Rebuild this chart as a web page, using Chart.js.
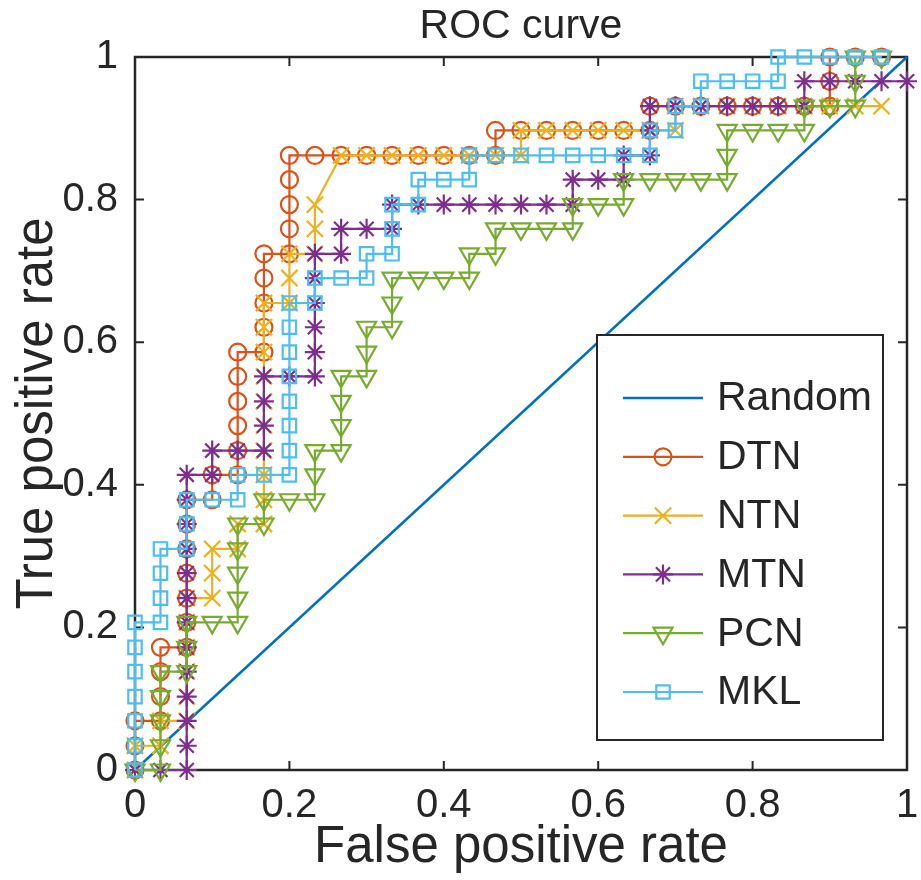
<!DOCTYPE html>
<html>
<head>
<meta charset="utf-8">
<script src="https://cdn.jsdelivr.net/npm/chart.js@4.4.1/dist/chart.umd.min.js"></script>
<style>
  html, body { margin: 0; padding: 0; background: #fff; }
  #wrap { width: 921px; height: 880px; }
</style>
</head>
<body>
<div id="wrap"><canvas id="roc" width="921" height="880"></canvas></div>
<script>
// ROC points: [false positive rate, true positive rate]
const randomPts = [[0, 0], [1, 1]];

const dtnPts = [[0,0],[0,0.034],[0,0.069],[0.033,0.069],[0.033,0.103],[0.033,0.138],[0.033,0.172],[0.067,0.172],[0.067,0.207],[0.067,0.241],[0.067,0.276],[0.067,0.31],[0.067,0.345],[0.067,0.379],[0.1,0.379],[0.1,0.414],[0.133,0.414],[0.133,0.448],[0.133,0.483],[0.133,0.517],[0.133,0.552],[0.133,0.586],[0.167,0.586],[0.167,0.621],[0.167,0.655],[0.167,0.69],[0.167,0.724],[0.2,0.724],[0.2,0.759],[0.2,0.793],[0.2,0.828],[0.2,0.862],[0.233,0.862],[0.267,0.862],[0.3,0.862],[0.333,0.862],[0.367,0.862],[0.4,0.862],[0.433,0.862],[0.467,0.862],[0.467,0.897],[0.5,0.897],[0.533,0.897],[0.567,0.897],[0.6,0.897],[0.633,0.897],[0.667,0.897],[0.667,0.931],[0.7,0.931],[0.733,0.931],[0.767,0.931],[0.8,0.931],[0.833,0.931],[0.867,0.931],[0.9,0.931],[0.9,0.966],[0.9,1],[0.933,1],[0.967,1]];

const ntnPts = [[0,0],[0,0.034],[0.033,0.034],[0.033,0.069],[0.067,0.069],[0.067,0.103],[0.067,0.138],[0.067,0.172],[0.067,0.207],[0.067,0.241],[0.1,0.241],[0.1,0.276],[0.1,0.31],[0.133,0.31],[0.133,0.345],[0.167,0.345],[0.167,0.379],[0.167,0.414],[0.167,0.448],[0.167,0.483],[0.167,0.517],[0.167,0.552],[0.167,0.586],[0.167,0.621],[0.167,0.655],[0.2,0.655],[0.2,0.69],[0.2,0.724],[0.233,0.724],[0.233,0.759],[0.233,0.793],[0.267,0.862],[0.3,0.862],[0.333,0.862],[0.367,0.862],[0.4,0.862],[0.433,0.862],[0.467,0.862],[0.5,0.862],[0.5,0.897],[0.533,0.897],[0.567,0.897],[0.6,0.897],[0.633,0.897],[0.667,0.897],[0.7,0.897],[0.7,0.931],[0.733,0.931],[0.767,0.931],[0.8,0.931],[0.833,0.931],[0.867,0.931],[0.9,0.931],[0.933,0.931],[0.967,0.931]];

const mtnPts = [[0,0],[0.033,0],[0.067,0],[0.067,0.034],[0.067,0.069],[0.067,0.103],[0.067,0.138],[0.067,0.172],[0.067,0.207],[0.067,0.241],[0.067,0.276],[0.067,0.31],[0.067,0.345],[0.067,0.379],[0.067,0.414],[0.1,0.414],[0.1,0.448],[0.133,0.448],[0.167,0.448],[0.167,0.483],[0.167,0.517],[0.167,0.552],[0.2,0.552],[0.233,0.552],[0.233,0.586],[0.233,0.621],[0.233,0.655],[0.233,0.69],[0.233,0.724],[0.267,0.724],[0.267,0.759],[0.3,0.759],[0.333,0.759],[0.333,0.793],[0.367,0.793],[0.4,0.793],[0.433,0.793],[0.467,0.793],[0.5,0.793],[0.533,0.793],[0.567,0.793],[0.567,0.828],[0.6,0.828],[0.633,0.828],[0.633,0.862],[0.667,0.862],[0.667,0.897],[0.667,0.931],[0.7,0.931],[0.733,0.931],[0.767,0.931],[0.8,0.931],[0.833,0.931],[0.867,0.931],[0.867,0.966],[0.9,0.966],[0.933,0.966],[0.967,0.966],[1,0.966]];

const pcnPts = [[0,0],[0.033,0],[0.033,0.034],[0.033,0.069],[0.033,0.103],[0.033,0.138],[0.067,0.138],[0.067,0.172],[0.067,0.207],[0.1,0.207],[0.133,0.207],[0.133,0.241],[0.133,0.276],[0.133,0.31],[0.133,0.345],[0.167,0.345],[0.167,0.379],[0.2,0.379],[0.233,0.379],[0.233,0.414],[0.233,0.448],[0.267,0.448],[0.267,0.483],[0.267,0.517],[0.267,0.552],[0.3,0.552],[0.3,0.586],[0.3,0.621],[0.333,0.621],[0.333,0.655],[0.333,0.69],[0.367,0.69],[0.4,0.69],[0.433,0.69],[0.433,0.724],[0.467,0.724],[0.467,0.759],[0.5,0.759],[0.533,0.759],[0.567,0.759],[0.567,0.793],[0.6,0.793],[0.633,0.793],[0.633,0.828],[0.667,0.828],[0.7,0.828],[0.733,0.828],[0.767,0.828],[0.767,0.862],[0.767,0.897],[0.8,0.897],[0.833,0.897],[0.867,0.897],[0.867,0.931],[0.9,0.931],[0.933,0.931],[0.933,0.966],[0.933,1],[0.967,1]];

const mklPts = [[0,0],[0,0.034],[0,0.069],[0,0.103],[0,0.138],[0,0.172],[0,0.207],[0.033,0.207],[0.033,0.241],[0.033,0.276],[0.033,0.31],[0.067,0.31],[0.067,0.345],[0.067,0.379],[0.1,0.379],[0.133,0.379],[0.133,0.414],[0.167,0.414],[0.2,0.414],[0.2,0.448],[0.2,0.483],[0.2,0.517],[0.2,0.552],[0.2,0.586],[0.2,0.621],[0.2,0.655],[0.233,0.655],[0.233,0.69],[0.267,0.69],[0.3,0.69],[0.3,0.724],[0.333,0.724],[0.333,0.759],[0.333,0.793],[0.367,0.793],[0.367,0.828],[0.4,0.828],[0.433,0.828],[0.433,0.862],[0.467,0.862],[0.5,0.862],[0.533,0.862],[0.567,0.862],[0.6,0.862],[0.633,0.862],[0.667,0.862],[0.667,0.897],[0.7,0.897],[0.7,0.931],[0.733,0.931],[0.733,0.966],[0.767,0.966],[0.8,0.966],[0.833,0.966],[0.833,1],[0.867,1],[0.9,1],[0.933,1],[0.967,1]];

const seriesNames = ['Random', 'DTN', 'NTN', 'MTN', 'PCN', 'MKL'];
const axisTicks = [0, 0.2, 0.4, 0.6, 0.8, 1];

const FONT = "'Liberation Sans', Arial, Helvetica, sans-serif";
const INK = '#262626';

function toXY(pts) {
    return pts.map(p => ({ x: p[0], y: p[1] }));
}

function series(label, pts, color, style, radius, rotation, order) {
    return {
        label: label,
        data: toXY(pts),
        showLine: true,
        borderColor: color,
        borderWidth: 2.2,
        pointStyle: style,
        pointRadius: radius,
        pointHoverRadius: radius,
        pointRotation: rotation,
        pointBorderColor: color,
        pointBorderWidth: 2.2,
        pointBackgroundColor: 'rgba(0,0,0,0)',
        clip: false,
        order: order
    };
}

const datasets = [
    series(seriesNames[0], randomPts, '#0072BD', 'circle', 0, 0, 5),
    series(seriesNames[1], dtnPts, '#D95319', 'circle', 8.5, 0, 4),
    series(seriesNames[2], ntnPts, '#EDB120', 'crossRot', 11.5, 0, 3),
    series(seriesNames[3], mtnPts, '#7E2F8E', 'star', 10, 0, 2),
    series(seriesNames[4], pcnPts, '#77AC30', 'triangle', 11, 180, 1),
    series(seriesNames[5], mklPts, '#4DBEEE', 'rect', 9.5, 0, 0)
];
datasets[0].borderWidth = 2.5;

// box, inward ticks, title and axis labels
const framePlugin = {
    id: 'framePlugin',
    beforeDatasetsDraw(chart) {
        const ctx = chart.ctx;
        const a = chart.chartArea;
        const xs = chart.scales.x, ys = chart.scales.y;
        ctx.save();
        ctx.strokeStyle = INK;
        ctx.lineWidth = 2.5;
        ctx.strokeRect(a.left, a.top, a.right - a.left, a.bottom - a.top);
        ctx.lineWidth = 2;
        const tl = 9;
        ctx.beginPath();
        axisTicks.forEach(v => {
            const px = xs.getPixelForValue(v);
            ctx.moveTo(px, a.bottom); ctx.lineTo(px, a.bottom - tl);
            ctx.moveTo(px, a.top); ctx.lineTo(px, a.top + tl);
            const py = ys.getPixelForValue(v);
            ctx.moveTo(a.left, py); ctx.lineTo(a.left + tl, py);
            ctx.moveTo(a.right, py); ctx.lineTo(a.right - tl, py);
        });
        ctx.stroke();
        ctx.restore();
    },
    afterDraw(chart) {
        const ctx = chart.ctx;
        const a = chart.chartArea;
        const cx = (a.left + a.right) / 2;
        ctx.save();
        ctx.fillStyle = INK;
        ctx.textAlign = 'center';
        ctx.textBaseline = 'middle';
        ctx.font = '41px ' + FONT;
        ctx.fillText('ROC curve', cx, 27);
        ctx.font = '51px ' + FONT;
        ctx.fillText('False positive rate', cx, 848);
        ctx.translate(38, (a.top + a.bottom) / 2);
        ctx.rotate(-Math.PI / 2);
        ctx.fillText('True positive rate', 0, 0);
        ctx.restore();

        // legend box inside the axes
        ctx.save();
        const lx = 597, ly = 335, lw = 286, lh = 405;
        ctx.fillStyle = '#fff';
        ctx.fillRect(lx, ly, lw, lh);
        ctx.strokeStyle = INK;
        ctx.lineWidth = 2;
        ctx.strokeRect(lx, ly, lw, lh);
        chart.data.datasets.forEach((ds, k) => {
            const y = 398 + k * 58.8;
            ctx.strokeStyle = ds.borderColor;
            ctx.lineWidth = ds.borderWidth;
            ctx.beginPath();
            ctx.moveTo(623, y);
            ctx.lineTo(703, y);
            ctx.stroke();
            if (ds.pointRadius > 0 && Chart.helpers && Chart.helpers.drawPoint) {
                ctx.lineWidth = ds.pointBorderWidth;
                ctx.fillStyle = 'rgba(0,0,0,0)';
                Chart.helpers.drawPoint(ctx, {
                    pointStyle: ds.pointStyle,
                    rotation: ds.pointRotation,
                    radius: ds.pointRadius,
                    borderWidth: ds.pointBorderWidth
                }, 663, y);
            }
            ctx.fillStyle = INK;
            ctx.font = '41px ' + FONT;
            ctx.textAlign = 'left';
            ctx.textBaseline = 'middle';
            ctx.fillText(ds.label, 717, y + 1);
        });
        ctx.restore();
    }
};

function fixX(s) {
    s.height = 110;
    s.paddingLeft = 0;
    s.paddingRight = 0;
}
function fixY(s) {
    s.width = 135;
    s.paddingTop = 0;
    s.paddingBottom = 0;
}

const chart = new Chart(document.getElementById('roc'), {
    type: 'scatter',
    data: { datasets: datasets },
    plugins: [framePlugin],
    options: {
        responsive: false,
        animation: false,
        events: [],
        layout: { padding: { left: 0, right: 14, top: 57, bottom: 0 } },
        plugins: {
            legend: { display: false },
            title: { display: false },
            tooltip: { enabled: false }
        },
        scales: {
            x: {
                type: 'linear',
                min: 0,
                max: 1,
                grid: { display: false, drawTicks: false },
                border: { display: false },
                afterFit: fixX,
                afterBuildTicks: s => { s.ticks = axisTicks.map(v => ({ value: v })); },
                ticks: {
                    padding: 12,
                    color: INK,
                    maxRotation: 0,
                    font: { family: FONT, size: 40 },
                    callback: v => String(v)
                }
            },
            y: {
                type: 'linear',
                min: 0,
                max: 1,
                grid: { display: false, drawTicks: false },
                border: { display: false },
                afterFit: fixY,
                afterBuildTicks: s => { s.ticks = axisTicks.map(v => ({ value: v })); },
                ticks: {
                    padding: 17,
                    color: INK,
                    font: { family: FONT, size: 40 },
                    callback: v => String(v)
                }
            }
        }
    }
});
</script>
</body>
</html>
